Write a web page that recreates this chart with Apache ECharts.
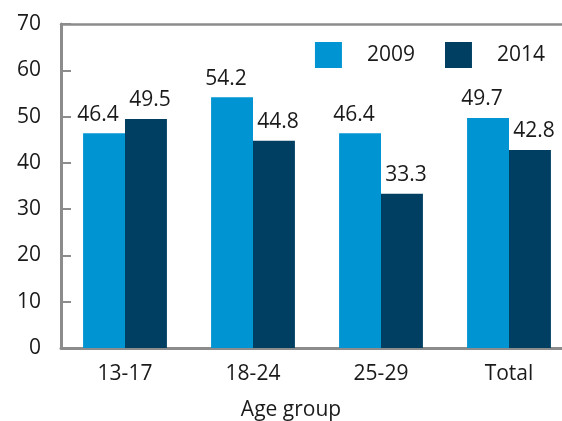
<!DOCTYPE html>
<html>
<head>
<meta charset="utf-8">
<script src="https://cdn.jsdelivr.net/npm/echarts@6/dist/echarts.min.js"></script>
<style>
  html, body { margin: 0; padding: 0; background: #fff; }
  #chart { width: 562px; height: 421px; }
</style>
</head>
<body>
<div id="chart"></div>
<script>
const categories = ['13-17', '18-24', '25-29', 'Total']
const values2009 = [46.4, 54.2, 46.4, 49.7]
const values2014 = [49.5, 44.8, 33.3, 42.8]
const yTicks = [0, 10, 20, 30, 40, 50, 60, 70]

const textColor = '#1a1a1a'
const axisColor = '#8c8c8c'
const font = 'Open Sans'

const chart = echarts.init(document.getElementById('chart'))

chart.setOption({
  animation: false,
  textStyle: { fontFamily: font },
  legend: {
    right: 12,
    top: 37,
    itemWidth: 27,
    itemHeight: 26,
    itemGap: 30,
    icon: 'rect',
    textStyle: { fontSize: 21, color: textColor, padding: [0, 0, 0, 20] },
    data: ['2009', '2014'],
  },
  grid: { left: 61, right: -11, top: 24, bottom: 73, outerBoundsMode: 'none', containLabel: false },
  xAxis: [
    {
      type: 'category',
      data: categories,
      name: 'Age group',
      nameLocation: 'middle',
      nameGap: 52,
      // the title sits left of the plot centre in the original
      nameTextStyle: { fontSize: 21, color: textColor, padding: [0, 52, 0, 0] },
      axisLine: { lineStyle: { color: axisColor, width: 3 } },
      axisTick: { show: false },
      axisLabel: { fontSize: 21, color: textColor, margin: 16 },
    },
    {
      type: 'category',
      data: categories,
      position: 'top',
      axisLine: { show: true, lineStyle: { color: axisColor, width: 2.5 } },
      axisTick: { show: false },
      axisLabel: { show: false },
    },
  ],
  yAxis: {
    type: 'value',
    min: yTicks[0],
    max: yTicks[yTicks.length - 1],
    interval: 10,
    axisLine: { show: true, lineStyle: { color: axisColor, width: 3 } },
    axisTick: { show: true, inside: true, length: 10, lineStyle: { color: axisColor, width: 2 } },
    axisLabel: { fontSize: 21, color: textColor, margin: 20 },
    splitLine: { show: false },
  },
  series: [
    {
      name: '2009',
      type: 'bar',
      data: values2009,
      barCategoryGap: '34.5%',
      barGap: '0%',
      itemStyle: { color: '#0095d2' },
      label: {
        show: true,
        position: 'top',
        distance: 8,
        offset: [-6, 0],
        fontSize: 21,
        color: textColor,
      },
    },
    {
      name: '2014',
      type: 'bar',
      data: values2014,
      barCategoryGap: '34.5%',
      barGap: '0%',
      itemStyle: { color: '#003f62' },
      label: {
        show: true,
        position: 'top',
        distance: 8,
        offset: [4, 0],
        fontSize: 21,
        color: textColor,
      },
    },
  ],
})
</script>
</body>
</html>
